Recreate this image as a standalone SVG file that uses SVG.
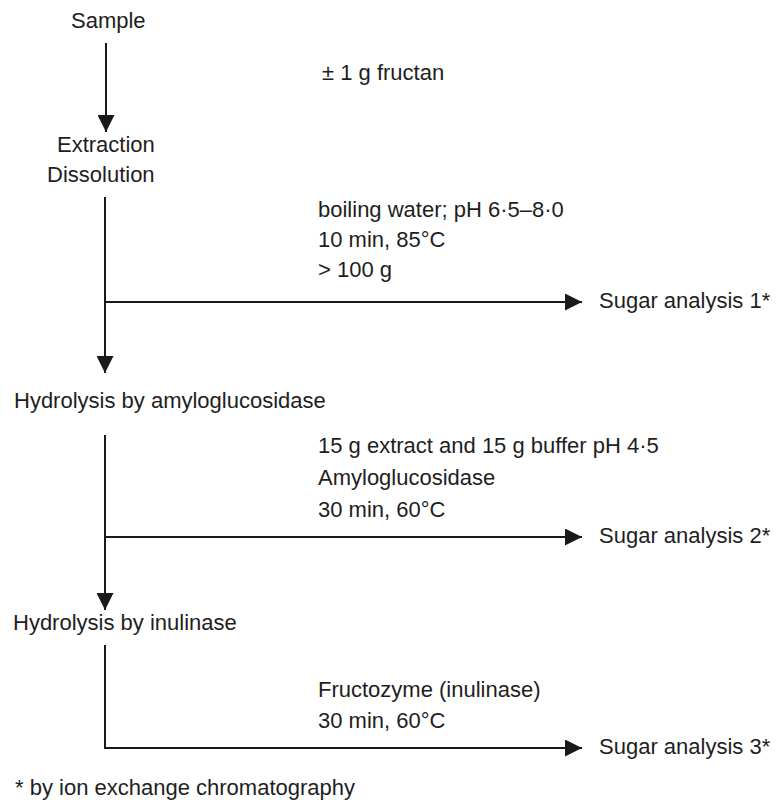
<svg xmlns="http://www.w3.org/2000/svg" width="776" height="800" viewBox="0 0 776 800">
<style>
text{font-family:"Liberation Sans",Arial,sans-serif;font-size:22px;fill:#1e1e1e}
.ln{stroke:#1a1a1a;stroke-width:2;fill:none}
</style>
<defs>
<marker id="ah" markerWidth="17" markerHeight="17" refX="17" refY="8.5" orient="auto" markerUnits="userSpaceOnUse">
<path d="M0,0 L17,8.5 L0,17 Z" fill="#1a1a1a"/>
</marker>
</defs>
<rect width="776" height="800" fill="#fff"/>
<g id="connectors">
<line class="ln" x1="106" y1="43" x2="106" y2="132" marker-end="url(#ah)"/>
<line class="ln" x1="105" y1="197" x2="105" y2="373" marker-end="url(#ah)"/>
<line class="ln" x1="105" y1="302" x2="582" y2="302" marker-end="url(#ah)"/>
<line class="ln" x1="105" y1="435" x2="105" y2="610" marker-end="url(#ah)"/>
<line class="ln" x1="105" y1="537" x2="582" y2="537" marker-end="url(#ah)"/>
<path class="ln" d="M105,645 V748 H582" marker-end="url(#ah)"/>
</g>
<g id="sample"><text x="71" y="28">Sample</text></g>
<g id="note-fructan"><text x="322" y="80">± 1 g fructan</text></g>
<g id="extraction"><text x="57" y="152">Extraction</text><text x="47" y="182">Dissolution</text></g>
<g id="cond1"><text x="318" y="217">boiling water; pH 6·5–8·0</text><text x="318" y="247">10 min, 85°C</text><text x="318" y="277">&gt; 100 g</text></g>
<g id="sugar1"><text x="599" y="308">Sugar analysis 1*</text></g>
<g id="hydro-amylo"><text x="14" y="408">Hydrolysis by amyloglucosidase</text></g>
<g id="cond2"><text x="318" y="453">15 g extract and 15 g buffer pH 4·5</text><text x="318" y="485">Amyloglucosidase</text><text x="318" y="517">30 min, 60°C</text></g>
<g id="sugar2"><text x="599" y="543">Sugar analysis 2*</text></g>
<g id="hydro-inulinase"><text x="13" y="630">Hydrolysis by inulinase</text></g>
<g id="cond3"><text x="318" y="697">Fructozyme (inulinase)</text><text x="318" y="728">30 min, 60°C</text></g>
<g id="sugar3"><text x="599" y="754">Sugar analysis 3*</text></g>
<g id="footnote"><text x="15" y="795">* by ion exchange chromatography</text></g>
</svg>
